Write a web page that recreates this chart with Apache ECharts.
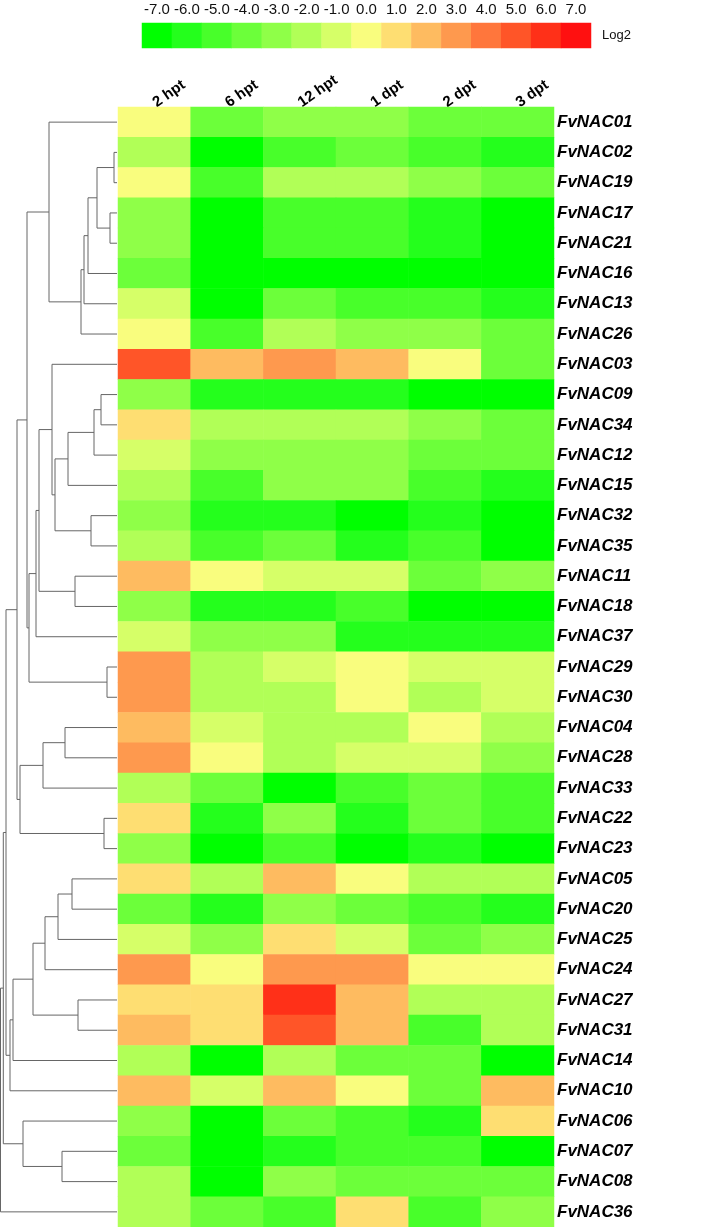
<!DOCTYPE html>
<html>
<head>
<meta charset="utf-8">
<script src="https://cdn.jsdelivr.net/npm/echarts@6/dist/echarts.min.js"></script>
<style>
  html, body { margin: 0; padding: 0; background: #fff; }
  #chart { width: 720px; height: 1227px; }
</style>
</head>
<body>
<div id="chart"></div>
<script>
// time points (columns)
const timePoints = ['2 hpt', '6 hpt', '12 hpt', '1 dpt', '2 dpt', '3 dpt'];

// genes in dendrogram order, top to bottom
const genes = [
  'FvNAC01', 'FvNAC02', 'FvNAC19', 'FvNAC17', 'FvNAC21', 'FvNAC16', 'FvNAC13', 'FvNAC26',
  'FvNAC03', 'FvNAC09', 'FvNAC34', 'FvNAC12', 'FvNAC15', 'FvNAC32', 'FvNAC35', 'FvNAC11',
  'FvNAC18', 'FvNAC37', 'FvNAC29', 'FvNAC30', 'FvNAC04', 'FvNAC28', 'FvNAC33', 'FvNAC22',
  'FvNAC23', 'FvNAC05', 'FvNAC20', 'FvNAC25', 'FvNAC24', 'FvNAC27', 'FvNAC31', 'FvNAC14',
  'FvNAC10', 'FvNAC06', 'FvNAC07', 'FvNAC08', 'FvNAC36'
];

// log2 fold change, one row per gene, columns as timePoints
const log2Values = [
  [0, -4, -3, -3, -4, -4],
  [-2, -7, -5, -4, -5, -6],
  [0, -5, -2, -2, -3, -4],
  [-3, -7, -5, -5, -6, -7],
  [-3, -7, -5, -5, -6, -7],
  [-4, -7, -7, -7, -7, -7],
  [-1, -7, -4, -5, -5, -6],
  [0, -5, -2, -3, -3, -4],
  [5, 2, 3, 2, 0, -4],
  [-3, -6, -6, -6, -7, -7],
  [1, -2, -2, -2, -3, -4],
  [-1, -3, -3, -3, -4, -4],
  [-2, -5, -3, -3, -5, -6],
  [-3, -6, -6, -7, -6, -7],
  [-2, -5, -4, -6, -5, -7],
  [2, 0, -1, -1, -4, -3],
  [-3, -6, -6, -5, -7, -7],
  [-1, -3, -3, -6, -6, -6],
  [3, -2, -1, 0, -1, -1],
  [3, -2, -2, 0, -2, -1],
  [2, -1, -2, -2, 0, -2],
  [3, 0, -2, -1, -1, -3],
  [-2, -4, -7, -5, -4, -5],
  [1, -6, -3, -6, -4, -5],
  [-3, -7, -5, -7, -6, -7],
  [1, -2, 2, 0, -2, -2],
  [-4, -6, -3, -4, -5, -6],
  [-1, -3, 1, -1, -4, -3],
  [3, 0, 3, 3, 0, 0],
  [1, 1, 6, 2, -2, -2],
  [2, 1, 5, 2, -5, -2],
  [-2, -7, -2, -4, -4, -7],
  [2, -1, 2, 0, -4, 2],
  [-3, -7, -4, -5, -6, 1],
  [-4, -7, -6, -5, -5, -7],
  [-2, -7, -3, -4, -4, -4],
  [-2, -4, -5, 1, -5, -3]
];

// colour scale levels and their tick labels
const scaleLevels = [-7, -6, -5, -4, -3, -2, -1, 0, 1, 2, 3, 4, 5, 6, 7];
const scaleLabels = ['-7.0', '-6.0', '-5.0', '-4.0', '-3.0', '-2.0', '-1.0', '0.0',
  '1.0', '2.0', '3.0', '4.0', '5.0', '6.0', '7.0'];
const scaleColors = [
  '#00ff00', '#24ff1c', '#48ff2a', '#6cff3a', '#8fff48', '#b1ff57', '#d6ff68', '#f9fd7e',
  '#fede72', '#febb60', '#fe994e', '#ff763c', '#ff5528', '#ff3018', '#ff1010'
];

// row clustering, hclust style: negative = leaf (row -n-1), positive = earlier merge (1-based)
const merges = [
  [-2, -3, 3], [-4, -5, 7], [1, 2, 20], [3, -6, 29], [4, -7, 33], [5, -8, 36],
  [-1, 6, 68], [-10, -11, 16], [8, -12, 23], [9, -13, 49], [-14, -15, 26], [10, 11, 62],
  [-9, 12, 65], [-16, -17, 42], [13, 14, 78], [15, -18, 81], [-19, -20, 10], [16, 17, 88],
  [7, 18, 90], [-21, -22, 52], [20, -23, 74], [-24, -25, 13], [21, 22, 97], [19, 23, 100],
  [-26, -27, 45], [25, -28, 59], [26, -29, 72], [-30, -31, 39], [27, 28, 84], [29, -32, 104],
  [30, -33, 107], [24, 31, 111], [-35, -36, 55], [-34, 33, 94], [32, 34, 113.7], [35, -37, 116.5]
];

// node positions: leaf height 0 at its row, merge at mean of its children
const nodePos = [];
function childPos(ref) {
  if (ref < 0) return { h: 0, y: -ref - 1 };
  return nodePos[ref - 1];
}
merges.forEach(m => {
  const a = childPos(m[0]), b = childPos(m[1]);
  nodePos.push({ h: m[2], y: (a.y + b.y) / 2 });
});

const heatData = [];
log2Values.forEach((row, r) => row.forEach((v, c) => heatData.push([c, r, v])));
const scaleData = scaleLevels.map((v, i) => [i, 0, v]);

const chart = echarts.init(document.getElementById('chart'));
const font = 'Liberation Sans, Arial, sans-serif';

chart.setOption({
  animation: false,
  backgroundColor: '#fff',
  grid: [
    { left: 118, right: 166, top: 107, bottom: 0 },
    { left: 0, width: 117, top: 107, bottom: 0 },
    { left: 142, width: 449, top: 23, height: 25 }
  ],
  xAxis: [
    {
      type: 'category', gridIndex: 0, data: timePoints, position: 'top',
      axisLine: { show: false }, axisTick: { show: false }, splitLine: { show: false },
      axisLabel: {
        rotate: -35, interval: 0, margin: 3, color: '#000',
        fontFamily: font, fontSize: 15, fontWeight: 'bold'
      }
    },
    { type: 'value', gridIndex: 1, min: 0, max: 117, inverse: true, show: false },
    {
      type: 'category', gridIndex: 2, data: scaleLabels, position: 'top',
      axisLine: { show: false }, axisTick: { show: false },
      axisLabel: { interval: 0, margin: 6, color: '#111', fontFamily: font, fontSize: 15 }
    }
  ],
  yAxis: [
    {
      type: 'category', gridIndex: 0, data: genes, inverse: true, position: 'right',
      axisLine: { show: false }, axisTick: { show: false }, splitLine: { show: false },
      axisLabel: {
        interval: 0, margin: 3, color: '#000',
        fontFamily: font, fontSize: 17, fontWeight: 'bold', fontStyle: 'italic'
      }
    },
    { type: 'value', gridIndex: 1, min: -0.5, max: genes.length - 0.5, inverse: true, show: false },
    {
      type: 'category', gridIndex: 2, data: ['Log2'], position: 'right',
      axisLine: { show: false }, axisTick: { show: false },
      axisLabel: { margin: 11, color: '#111', fontFamily: font, fontSize: 13 }
    }
  ],
  visualMap: {
    type: 'piecewise', show: false, seriesIndex: [0, 2], dimension: 2,
    pieces: scaleLevels.map((v, i) => ({ value: v, color: scaleColors[i] }))
  },
  series: [
    {
      type: 'heatmap', xAxisIndex: 0, yAxisIndex: 0, data: heatData,
      itemStyle: { borderWidth: 0 }, emphasis: { disabled: true }
    },
    {
      type: 'custom', xAxisIndex: 1, yAxisIndex: 1, silent: true,
      data: merges.map((m, i) => [nodePos[i].h, nodePos[i].y]),
      encode: { x: 0, y: 1 },
      renderItem: (params, api) => {
        const m = merges[params.dataIndex];
        const n = nodePos[params.dataIndex];
        const a = childPos(m[0]), b = childPos(m[1]);
        const pts = [
          api.coord([a.h, a.y]), api.coord([n.h, a.y]),
          api.coord([n.h, b.y]), api.coord([b.h, b.y])
        ];
        return {
          type: 'polyline',
          shape: { points: pts },
          style: { stroke: '#666', lineWidth: 1, fill: null }
        };
      }
    },
    {
      type: 'heatmap', xAxisIndex: 2, yAxisIndex: 2, data: scaleData,
      itemStyle: { borderWidth: 0 }, emphasis: { disabled: true }
    }
  ]
});
</script>
</body>
</html>
